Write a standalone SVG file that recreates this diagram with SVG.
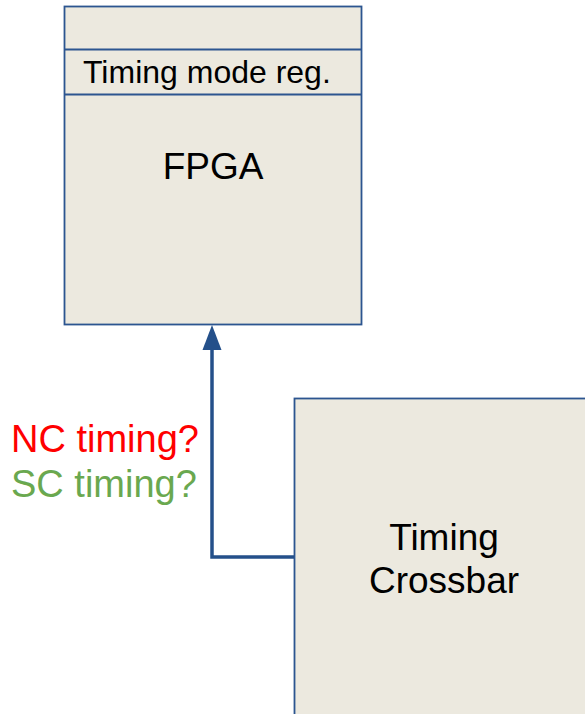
<svg xmlns="http://www.w3.org/2000/svg" width="585" height="714" viewBox="0 0 585 714">
<defs>
<style>
.box{fill:#ece9df;stroke:#2c5590;stroke-width:1.8}
.sep{stroke:#2c5590;stroke-width:1.8}
.t{font-family:"Liberation Sans",Arial,sans-serif;fill:#000}
.lbl{font-family:"Liberation Sans",Arial,sans-serif;font-size:38px}
.conn{fill:none;stroke:#24508a;stroke-width:3.5}
</style>
</defs>
<rect width="585" height="714" fill="#fff"/>
<g id="fpga">
<rect class="box" x="64.5" y="6.5" width="297" height="318"/>
<line class="sep" x1="64.5" y1="49.5" x2="361.5" y2="49.5"/>
<line class="sep" x1="64.5" y1="94.5" x2="361.5" y2="94.5"/>
<text class="t" x="83" y="83" font-size="32">Timing mode reg.</text>
<text class="t" x="213" y="179" font-size="37" text-anchor="middle">FPGA</text>
</g>
<g id="crossbar">
<rect class="box" x="294.5" y="398.5" width="300" height="330"/>
<text class="t" x="444" y="550" font-size="37" text-anchor="middle">Timing</text>
<text class="t" x="444" y="593" font-size="37" text-anchor="middle">Crossbar</text>
</g>
<g id="connectors">
<path class="conn" d="M294,557 H212 V350"/>
<path d="M212,325 L221.5,350 L202.5,350 Z" fill="#24508a"/>
</g>
<g id="labels">
<text class="lbl" x="11" y="452" fill="#ff0000">NC timing?</text>
<text class="lbl" x="11" y="497" fill="#6aa84f">SC timing?</text>
</g>
</svg>
